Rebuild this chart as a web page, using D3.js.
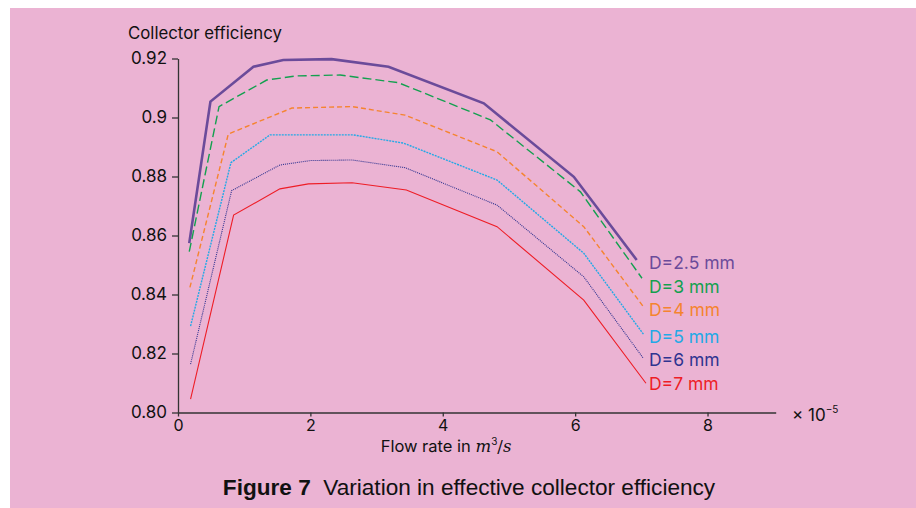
<!DOCTYPE html>
<html>
<head>
<meta charset="utf-8">
<title>Collector efficiency</title>
<script src="https://cdn.jsdelivr.net/npm/d3@7"></script>
<style>
    body { margin: 0; background: #fff; }
    svg { display: block; }
    .tick text { font-family: Inter, "Noto Sans", sans-serif; }
</style>
</head>
<body>
<div id="chart"></div>

<script>
    // flow rate (x 10^-5 m3/s) and efficiency, per tube diameter
    var labels = ["D=2.5 mm", "D=3 mm", "D=4 mm", "D=5 mm", "D=6 mm", "D=7 mm"];
    var flow25 = [0.17, 0.49, 1.14, 1.59, 2.32, 3.18, 4.62, 5.98, 6.93];
    var eff25  = [0.8574, 0.9054, 0.9172, 0.9195, 0.9198, 0.9172, 0.9048, 0.8799, 0.8517];
    var flow3  = [0.17, 0.62, 1.34, 1.79, 2.45, 3.33, 4.72, 6.08, 7.01];
    var eff3   = [0.8545, 0.9037, 0.9127, 0.9141, 0.9144, 0.9118, 0.8992, 0.8748, 0.8455];
    var flow4  = [0.18, 0.76, 1.72, 2.63, 3.43, 4.82, 6.13, 7.03];
    var eff4   = [0.8424, 0.8944, 0.9032, 0.9037, 0.9008, 0.8884, 0.8630, 0.8359];
    var flow5  = [0.19, 0.80, 1.39, 2.65, 3.41, 4.82, 6.13, 7.04];
    var eff5   = [0.8293, 0.8847, 0.8941, 0.8941, 0.8913, 0.8788, 0.8540, 0.8263];
    var flow6  = [0.19, 0.81, 1.54, 2.00, 2.63, 3.43, 4.82, 6.13, 7.03];
    var eff6   = [0.8164, 0.8752, 0.8839, 0.8854, 0.8856, 0.8830, 0.8703, 0.8460, 0.8184];
    var flow7  = [0.19, 0.84, 1.54, 1.97, 2.63, 3.45, 4.82, 6.13, 7.07];
    var eff7   = [0.8045, 0.8669, 0.8758, 0.8775, 0.8779, 0.8754, 0.8630, 0.8381, 0.8099];
    var labelAt = [0.8507, 0.8426, 0.8347, 0.8257, 0.8178, 0.8099]; // efficiency level of each label
    var xTicks = [0, 2, 4, 6, 8];
    var yTicks = [0.80, 0.82, 0.84, 0.86, 0.88, 0.90, 0.92];
    var yTickLabels = ["0.80", "0.82", "0.84", "0.86", "0.88", "0.9", "0.92"];

    var flows = [flow25, flow3, flow4, flow5, flow6, flow7];
    var effs = [eff25, eff3, eff4, eff5, eff6, eff7];

    // line looks
    var colors = ["#6b4b9a", "#13a04f", "#f5842f", "#22a9e6", "#2f3490", "#ee1d26"];
    var widths = [2.6, 1.4, 1.4, 1.4, 1.1, 1.1];
    var dashes = [null, "9,4", "5,3", "2,1", "1,1", null];

    var w = 916, h = 508;
    var font = "Inter, 'Noto Sans', sans-serif";

    var svg = d3.select("#chart").append("svg")
        .attr("width", w)
        .attr("height", h);

    // pink panel with white margin on top/left
    svg.append("rect")
        .attr("x", 10).attr("y", 8)
        .attr("width", w - 10).attr("height", h - 8)
        .attr("fill", "#ebb3d3");

    var x = d3.scaleLinear().domain([0, 9.03]).range([178, 775.7]);
    var y = d3.scaleLinear().domain([0.80, 0.92]).range([412.5, 58.5]);

    var xAxis = svg.append("g")
        .attr("transform", "translate(0," + y(0.80) + ")")
        .call(d3.axisBottom(x).tickValues(xTicks).tickSize(4).tickPadding(3).tickSizeOuter(0));
    xAxis.selectAll("text").attr("font-size", 16).attr("fill", "#111");

    var yAxis = svg.append("g")
        .attr("transform", "translate(" + x(0) + ",0)")
        .call(d3.axisLeft(y).tickValues(yTicks).tickSize(6).tickPadding(5).tickSizeOuter(0)
            .tickFormat(function(d, i) { return yTickLabels[i]; }));
    yAxis.selectAll("text").attr("font-size", 17).attr("fill", "#111");

    svg.selectAll(".domain, .tick line").attr("stroke", "#333").attr("stroke-width", 1.3);

    var line = d3.line()
        .x(function(d) { return x(d[0]); })
        .y(function(d) { return y(d[1]); });

    var labelX = x(d3.max(flows, function(f) { return f[f.length - 1]; })) + 3;

    flows.forEach(function(f, k) {
        var pts = f.map(function(v, i) { return [v, effs[k][i]]; });
        svg.append("path")
            .datum(pts)
            .attr("d", line)
            .attr("fill", "none")
            .attr("stroke", colors[k])
            .attr("stroke-width", widths[k])
            .attr("stroke-dasharray", dashes[k]);

        svg.append("text")
            .attr("x", labelX)
            .attr("y", y(labelAt[k]))
            .attr("dy", "0.36em")
            .attr("font-family", font)
            .attr("font-size", 17.5)
            .attr("fill", colors[k])
            .text(labels[k]);
    });

    svg.append("text")
        .attr("x", 128).attr("y", 39)
        .attr("font-family", font).attr("font-size", 16.8)
        .attr("fill", "#111")
        .text("Collector efficiency");

    var xl = svg.append("text")
        .attr("x", 446).attr("y", 452)
        .attr("text-anchor", "middle")
        .attr("font-family", font).attr("font-size", 16.5)
        .attr("fill", "#111");
    xl.append("tspan").text("Flow rate in ");
    xl.append("tspan").attr("font-style", "italic").attr("font-family", "'DejaVu Serif', serif").text("m");
    xl.append("tspan").attr("font-size", 10).attr("dy", -7).text("3");
    xl.append("tspan").attr("dy", 7).attr("font-family", "'DejaVu Serif', serif").text("/");
    xl.append("tspan").attr("font-style", "italic").attr("font-family", "'DejaVu Serif', serif").text("s");

    var mult = svg.append("text")
        .attr("x", 792).attr("y", 421)
        .attr("font-family", font).attr("font-size", 17)
        .attr("fill", "#111");
    mult.append("tspan").text("\u00d7 10");
    mult.append("tspan").attr("font-size", 10).attr("dy", -8).text("\u22125");

    var cap = svg.append("text")
        .attr("x", 469).attr("y", 495)
        .attr("text-anchor", "middle")
        .attr("font-family", "'Liberation Sans', Arial, sans-serif")
        .attr("font-size", 22.6)
        .attr("fill", "#111");
    cap.append("tspan").attr("font-weight", "bold").text("Figure 7");
    cap.append("tspan").attr("xml:space", "preserve").text("\u00a0 Variation in effective collector efficiency");
</script>
</body>
</html>
